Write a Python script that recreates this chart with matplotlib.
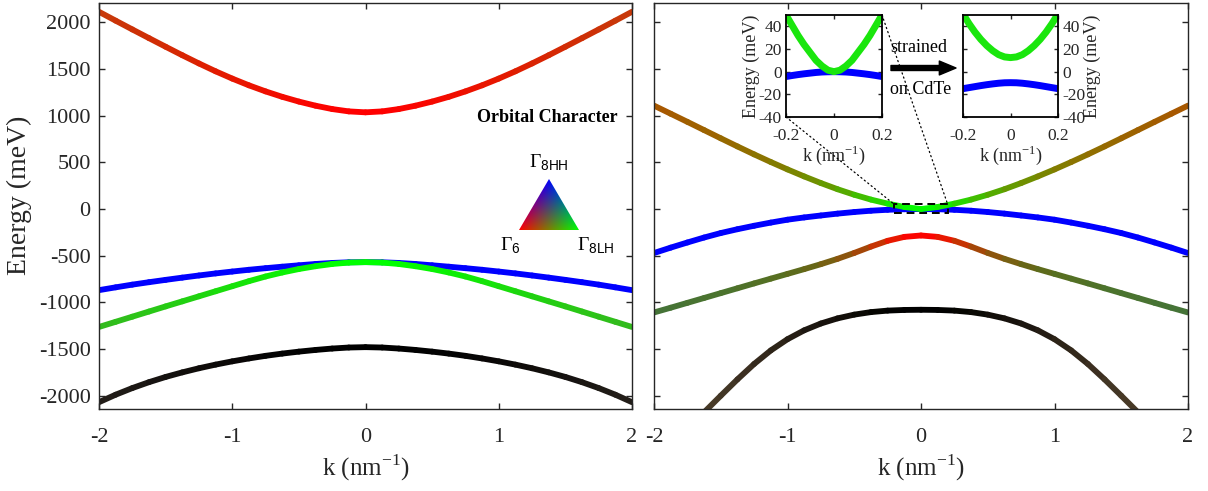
"""
Band structure of CdTe (left) and HgTe (right) in the 6-band Kane model,
lines coloured by orbital character (red = Gamma6, green = Gamma8 LH,
blue = Gamma8 HH, black = remaining split-off part).
Insets: HgTe near k = 0, unstrained and strained on CdTe.
"""

import numpy as np
import matplotlib
matplotlib.use("Agg")
import matplotlib.pyplot as plt
from matplotlib.collections import LineCollection
from matplotlib.patches import Polygon, Rectangle, ConnectionPatch

plt.rcParams["font.family"] = "Liberation Serif"
plt.rcParams["mathtext.fontset"] = "custom"
plt.rcParams["mathtext.rm"] = "Liberation Serif"
plt.rcParams["mathtext.sf"] = "Liberation Sans"
plt.rcParams["axes.unicode_minus"] = False

# k >= 0 half of the path (nm^-1); bands are symmetric in k
K_HALF = [0, 0.125, 0.25, 0.375, 0.5, 0.625, 0.75, 0.875, 1.0,
          1.125, 1.25, 1.375, 1.5, 1.625, 1.75, 1.875, 2.0]

# CdTe energies (meV)
CDTE_E6 = [1035, 1045, 1070, 1106, 1150, 1201, 1259, 1324, 1396,
           1474, 1558, 1646, 1737, 1829, 1922, 2016, 2111]
CDTE_HH = [-568, -570, -577, -588, -602, -617, -633, -650, -669,
           -689, -711, -734, -758, -783, -809, -838, -868]
CDTE_LH = [-568, -573, -588, -612, -642, -679, -722, -772, -826,
           -880, -934, -988, -1042, -1097, -1152, -1207, -1262]
CDTE_SO = [-1478, -1482, -1493, -1508, -1526, -1547, -1571, -1599, -1630,
           -1665, -1704, -1748, -1797, -1853, -1916, -1987, -2067]

# HgTe energies (meV)
HGTE_UP = [0, 22, 58, 101, 153, 212, 278, 349, 424,
           503, 585, 670, 757, 845, 933, 1020, 1107]
HGTE_HH = [0, -2, -8, -18, -32, -49, -69, -90, -114,
           -145, -179, -216, -257, -305, -358, -413, -471]
HGTE_E6 = [-283, -298, -340, -402, -470, -533, -590, -643, -694,
           -745, -796, -848, -900, -952, -1004, -1056, -1107]
HGTE_SO = [-1078, -1080, -1087, -1103, -1130, -1170, -1225, -1298, -1393,
           -1513, -1658, -1823, -1998, -2176, -2356, -2536, -2716]

# orbital weights (Gamma6, Gamma8 LH, Gamma8 HH) along K_HALF
ZERO = [0] * 17
ONE = [1] * 17
CDTE_E6_W = ([1, 1, 0.99, 0.98, 0.97, 0.95, 0.93, 0.92, 0.9,
              0.88, 0.86, 0.84, 0.83, 0.81, 0.8, 0.79, 0.78],
             [0, 0, 0.01, 0.02, 0.03, 0.05, 0.06, 0.08, 0.09,
              0.11, 0.13, 0.15, 0.17, 0.18, 0.2, 0.21, 0.23],
             [0, 0, 0, 0, 0, 0, 0, 0, 0,
              0, 0.01, 0.01, 0.02, 0.02, 0.03, 0.03, 0.04])
CDTE_LH_W = ([0, 0, 0.01, 0.02, 0.03, 0.05, 0.06, 0.08, 0.09,
              0.11, 0.12, 0.14, 0.15, 0.17, 0.18, 0.19, 0.2],
             [1, 1, 0.99, 0.98, 0.96, 0.94, 0.92, 0.9, 0.88,
              0.85, 0.83, 0.81, 0.79, 0.78, 0.76, 0.74, 0.73],
             [0, 0, 0, 0, 0.01, 0.02, 0.02, 0.03, 0.04,
              0.05, 0.06, 0.07, 0.08, 0.09, 0.1, 0.11, 0.12])
CDTE_HH_W = (ZERO, ZERO, ONE)
CDTE_SO_W = ([0, 0, 0, 0, 0.01, 0.01, 0.02, 0.03, 0.04,
              0.05, 0.06, 0.07, 0.08, 0.1, 0.11, 0.13, 0.14],
             [0, 0, 0, 0, 0.01, 0.01, 0.02, 0.02, 0.03,
              0.04, 0.05, 0.06, 0.07, 0.08, 0.1, 0.11, 0.12],
             [0, 0, 0, 0, 0.01, 0.01, 0.02, 0.02, 0.03,
              0.03, 0.04, 0.05, 0.06, 0.07, 0.08, 0.09, 0.1])

HGTE_UP_G6 = [0, 0.04, 0.12, 0.22, 0.3, 0.37, 0.42, 0.46, 0.5,
              0.53, 0.56, 0.58, 0.6, 0.62, 0.63, 0.65, 0.66]
HGTE_UP_W = (HGTE_UP_G6, [1 - w for w in HGTE_UP_G6], ZERO)
HGTE_HH_W = (ZERO, ZERO, ONE)
HGTE_E6_W = ([1, 0.97, 0.85, 0.7, 0.59, 0.5, 0.43, 0.38, 0.35,
              0.33, 0.32, 0.3, 0.29, 0.29, 0.28, 0.27, 0.27],
             [0, 0.03, 0.16, 0.25, 0.31, 0.36, 0.39, 0.41, 0.43,
              0.44, 0.44, 0.45, 0.45, 0.45, 0.45, 0.45, 0.45],
             [0, 0, 0, 0.02, 0.04, 0.06, 0.08, 0.1, 0.12,
              0.14, 0.15, 0.17, 0.18, 0.19, 0.2, 0.21, 0.22])
HGTE_SO_W = ([0, 0, 0.01, 0.03, 0.06, 0.08, 0.1, 0.13, 0.16,
              0.19, 0.22, 0.25, 0.27, 0.29, 0.31, 0.33, 0.35],
             [0, 0, 0.01, 0.03, 0.05, 0.06, 0.08, 0.1, 0.13,
              0.15, 0.17, 0.2, 0.22, 0.23, 0.24, 0.26, 0.27],
             [0, 0, 0, 0.01, 0.03, 0.04, 0.06, 0.07, 0.09,
              0.1, 0.12, 0.14, 0.15, 0.15, 0.16, 0.18, 0.19])

# insets: HgTe close to k = 0 (meV)
K_INS_HALF = [0, 0.025, 0.05, 0.075, 0.1, 0.125, 0.15, 0.175, 0.2]
INS_LH_FREE = [0, 1.3, 5, 10, 17, 24, 32, 41, 50]
INS_HH_FREE = [0, -0.1, -0.3, -0.7, -1.3, -1.9, -2.6, -3.4, -4.3]
INS_LH_STRAIN = [12.4, 13, 15, 18.5, 23, 28.5, 35, 42.5, 51]
INS_HH_STRAIN = [-9.7, -9.8, -10.2, -10.8, -11.5, -12.3, -13.2, -14.1, -15]

W, H = 1208, 491
AX_GREY = "#262626"


def mirror(v):
    v = np.asarray(v, dtype=float)
    return np.r_[v[:0:-1], v]


def mirror_k(v):
    v = np.asarray(v, dtype=float)
    return np.r_[-v[:0:-1], v]


def band(ax, e_half, weights, lw=4.2):
    kk = mirror_k(K_HALF)
    ee = mirror(e_half)
    rgb = np.column_stack([mirror(w) for w in weights]).clip(0, 1)
    pts = np.column_stack([kk, ee])
    segs = np.stack([pts[:-1], pts[1:]], axis=1)
    cols = (rgb[:-1] + rgb[1:]) / 2
    lc = LineCollection(segs, colors=cols, linewidths=lw,
                        capstyle="round", joinstyle="round")
    ax.add_collection(lc)


def box(x0, y0, x1, y1):
    # pixel box (top-left origin) -> figure fraction rect
    return [x0 / W, 1 - y1 / H, (x1 - x0) / W, (y1 - y0) / H]


def style(ax, size):
    for s in ax.spines.values():
        s.set_color(AX_GREY)
        s.set_linewidth(1.0)
    ax.tick_params(direction="in", top=True, right=True, length=4,
                   width=1.0, color=AX_GREY, labelsize=size, labelcolor=AX_GREY)


fig = plt.figure(figsize=(W / 100, H / 100), dpi=100)

ax1 = fig.add_axes(box(99, 3, 632, 409))
ax2 = fig.add_axes(box(654, 3, 1188, 409))

for ax in (ax1, ax2):
    style(ax, 16)
    ax.set_xlim(-2, 2)
    ax.set_ylim(-2140, 2205)
    ax.set_xticks([-2, -1, 0, 1, 2])
    ax.set_yticks(np.arange(-2000, 2001, 500))
    ax.tick_params(axis="x", pad=14)
    ax.tick_params(axis="y", pad=6)
    ax.set_xlabel(r"k (nm$^{-1}$)", fontsize=18, color=AX_GREY)
    ax.xaxis.set_label_coords(0.5, -0.108)
ax2.set_yticklabels([])
ax1.set_ylabel("Energy (meV)", fontsize=20, color=AX_GREY)
ax1.yaxis.set_label_coords(-0.126, 0.527)

band(ax1, CDTE_E6, CDTE_E6_W)
band(ax1, CDTE_HH, CDTE_HH_W)
band(ax1, CDTE_LH, CDTE_LH_W)
band(ax1, CDTE_SO, CDTE_SO_W)

band(ax2, HGTE_SO, HGTE_SO_W)
band(ax2, HGTE_E6, HGTE_E6_W)
band(ax2, HGTE_HH, HGTE_HH_W)
band(ax2, HGTE_UP, HGTE_UP_W)

# orbital character legend: barycentric colour triangle
fig.text(547 / W, 1 - 118 / H, "Orbital Character", fontsize=13,
         fontweight="bold", ha="center", va="center")
tri_ax = fig.add_axes(box(519, 179, 579, 230))
tri_ax.set_xlim(0, 1)
tri_ax.set_ylim(0, 1)
tri_ax.axis("off")
gx, gy = np.meshgrid(np.linspace(0, 1, 240), np.linspace(0, 1, 240))
l_top = gy
l_br = gx - gy / 2
l_bl = 1 - gx - gy / 2
img = np.dstack([l_bl, l_br, l_top]).clip(0, 1)
im = tri_ax.imshow(img, extent=[0, 1, 0, 1], origin="lower",
                   aspect="auto", interpolation="bilinear")
tri = Polygon([[0, 0], [1, 0], [0.5, 1]], closed=True,
              transform=tri_ax.transData, facecolor="none", edgecolor="none")
tri_ax.add_patch(tri)
im.set_clip_path(tri)
fig.text(549 / W, 1 - 163 / H, r"$\Gamma_{\mathsf{8HH}}$", fontsize=14,
         ha="center", va="center")
fig.text(510 / W, 1 - 246 / H, r"$\Gamma_{\mathsf{6}}$", fontsize=14,
         ha="center", va="center")
fig.text(596 / W, 1 - 246 / H, r"$\Gamma_{\mathsf{8LH}}$", fontsize=14,
         ha="center", va="center")

# zoom window around k = 0
ax2.add_patch(Rectangle((-0.2, -40), 0.4, 90, fill=False, edgecolor="k",
                        linewidth=1.4, linestyle=(0, (4, 2.5)), zorder=5))

# insets
ins1 = fig.add_axes(box(786, 15, 882, 117))
ins2 = fig.add_axes(box(963, 15, 1058, 117))
kin = mirror_k(K_INS_HALF)
green = (0.1, 0.9, 0.05)
ins1.plot(kin, mirror(INS_HH_FREE), color=(0, 0, 1), lw=5, solid_capstyle="butt")
ins1.plot(kin, mirror(INS_LH_FREE), color=green, lw=5, solid_capstyle="butt")
ins2.plot(kin, mirror(INS_HH_STRAIN), color=(0, 0, 1), lw=5, solid_capstyle="butt")
ins2.plot(kin, mirror(INS_LH_STRAIN), color=green, lw=5, solid_capstyle="butt")
for ax in (ins1, ins2):
    style(ax, 12.5)
    for s in ax.spines.values():
        s.set_color("k")
        s.set_linewidth(1.3)
    ax.set_xlim(-0.2, 0.2)
    ax.set_ylim(-40, 50)
    ax.set_xticks([-0.2, 0, 0.2])
    ax.set_xticklabels(["-0.2", "0", "0.2"])
    ax.set_yticks([-40, -20, 0, 20, 40])
    ax.tick_params(length=3, pad=3)
    ax.tick_params(axis="x", pad=8)
    ax.set_xlabel(r"k (nm$^{-1}$)", fontsize=13, color=AX_GREY, labelpad=0)
    ax.set_ylabel("Energy (meV)", fontsize=13, color=AX_GREY, labelpad=-1)
ins2.yaxis.tick_right()
ins2.yaxis.set_label_position("right")
ins2.tick_params(left=True)

for xy_in, xy_main in (((0, 0), (-0.2, 50)), ((1, 1), (0.2, 50))):
    con = ConnectionPatch(xyA=xy_in, coordsA=ins1.transAxes,
                          xyB=xy_main, coordsB=ax2.transData,
                          linestyle=(0, (1, 2.5)), linewidth=0.9, color="k")
    fig.add_artist(con)

# strain arrow between the insets
fig.text(919 / W, 1 - 47 / H, "strained", fontsize=13, ha="center", va="center")
fig.text(921 / W, 1 - 90 / H, "on CdTe", fontsize=13, ha="center", va="center")
ax2.annotate("", xy=(956 / W, 1 - 68 / H), xytext=(891 / W, 1 - 68 / H),
             xycoords="figure fraction", textcoords="figure fraction",
             arrowprops=dict(width=3.6, headwidth=10, headlength=12,
                             facecolor="k", edgecolor="k", shrink=0))

fig.savefig("out.png", dpi=100)
